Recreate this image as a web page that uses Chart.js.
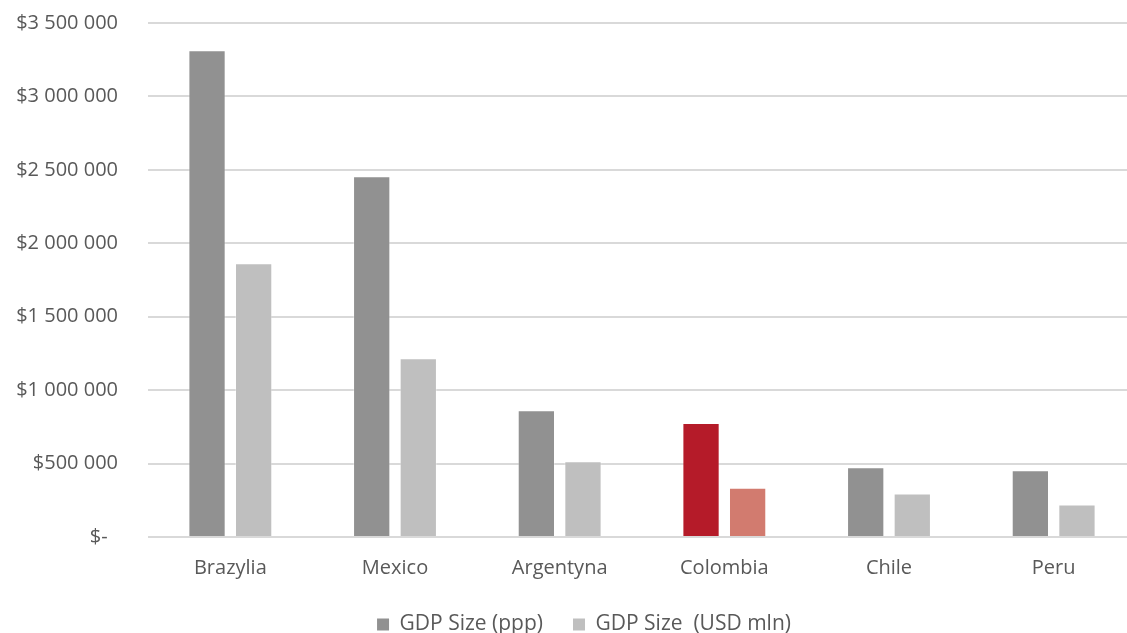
<!DOCTYPE html>
<html>
<head>
<meta charset="utf-8">
<script src="https://cdn.jsdelivr.net/npm/chart.js@4/dist/chart.umd.min.js"></script>
<style>
  html, body { margin: 0; padding: 0; background: #fff; overflow: hidden; }
  #wrap { position: relative; width: 1140px; height: 633px; }
</style>
</head>
<body>
<div id="wrap"><canvas id="gdp"></canvas></div>
<script>
// GDP of the largest Latin American economies
const countries = ['Brazylia', 'Mexico', 'Argentyna', 'Colombia', 'Chile', 'Peru'];
const gdpPpp = [3314000, 2456000, 863000, 776000, 475000, 454000];
const gdpUsd = [1864000, 1217000, 515000, 336000, 296000, 221000];
const seriesNames = ['GDP Size (ppp)', 'GDP Size  (USD mln)'];

const grayDark = '#919191';
const grayLight = '#bfbfbf';
const redDark = '#b51b29';
const redLight = '#d27b6f';
const highlight = 'Colombia';

const pppColors = countries.map(c => c === highlight ? redDark : grayDark);
const usdColors = countries.map(c => c === highlight ? redLight : grayLight);

function money(v) {
  if (v === 0) return '$-  ';
  return '$' + String(v).replace(/\B(?=(\d{3})+(?!\d))/g, ' ');
}

const fontFamily = '"Open Sans", "Noto Sans", sans-serif';
const textColor = '#595959';

// Compact legend band at the bottom, nudged right of centre.
const LEGEND_HEIGHT = 49;
const LEGEND_SHIFT = 16;
const legendPlacement = {
  id: 'legendPlacement',
  beforeLayout(chart) {
    const lg = chart.legend;
    if (lg && !lg._compactFit) {
      const fit = lg.fit;
      lg.fit = function () { fit.call(this); this.height = LEGEND_HEIGHT; };
      lg._compactFit = true;
    }
  },
  afterLayout(chart) {
    const lg = chart.legend;
    if (lg) { lg.left += LEGEND_SHIFT; lg.right += LEGEND_SHIFT; }
  }
};

new Chart(document.getElementById('gdp'), {
  type: 'bar',
  data: {
    labels: countries,
    datasets: [
      { label: seriesNames[0], data: gdpPpp, backgroundColor: pppColors,
        borderColor: 'rgba(255,255,255,0.3)', borderWidth: 1,
        categoryPercentage: 0.566, barPercentage: 0.8 },
      { label: seriesNames[1], data: gdpUsd, backgroundColor: usdColors,
        borderColor: 'rgba(255,255,255,0.3)', borderWidth: 1,
        categoryPercentage: 0.566, barPercentage: 0.8 }
    ]
  },
  plugins: [legendPlacement],
  options: {
    responsive: true,
    maintainAspectRatio: false,
    animation: false,
    layout: { padding: { top: 23, left: 0, right: 4, bottom: 0 } },
    plugins: {
      tooltip: { enabled: false },
      legend: {
        position: 'bottom',
        labels: {
          color: textColor,
          font: { family: fontFamily, size: 21 },
          boxWidth: 12, boxHeight: 12, padding: 30,
          generateLabels(chart) {
            return chart.data.datasets.map((ds, i) => ({
              text: ds.label,
              fillStyle: i === 0 ? grayDark : grayLight,
              strokeStyle: 'rgba(0,0,0,0)',
              lineWidth: 0,
              datasetIndex: i,
              fontColor: textColor
            }));
          }
        }
      }
    },
    scales: {
      x: {
        grid: { display: false, drawTicks: false },
        border: { display: false },
        afterFit(scale) { scale.height = 47; },
        ticks: { color: textColor, font: { family: fontFamily, size: 20 }, padding: 19 }
      },
      y: {
        min: 0, max: 3500000,
        grid: { color: '#d9d9d9', lineWidth: 2, drawTicks: false },
        border: { display: false },
        afterFit(scale) {
          scale.width = 148;
          scale.paddingTop = 0;
          scale.paddingBottom = 0;
        },
        ticks: {
          stepSize: 500000,
          color: textColor,
          font: { family: fontFamily, size: 20 },
          padding: 30,
          callback: v => money(v)
        }
      }
    }
  }
});
</script>
</body>
</html>
